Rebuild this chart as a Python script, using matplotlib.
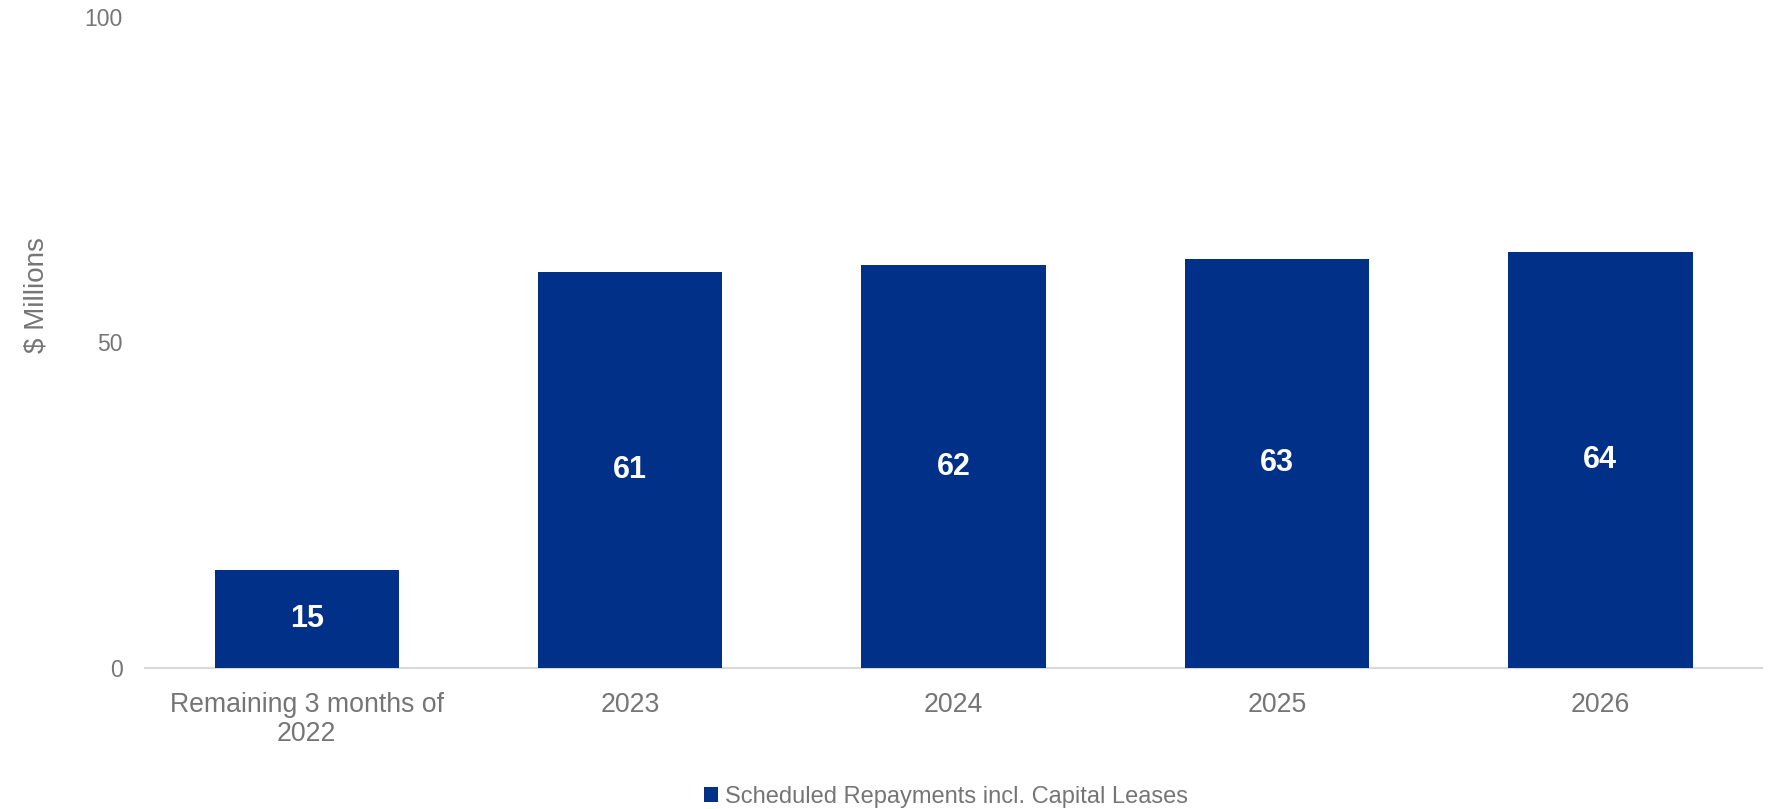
"""
Scheduled repayments bar chart
"""
import matplotlib
matplotlib.use("Agg")
import matplotlib.pyplot as plt
from matplotlib.patches import Patch

plt.rcParams['font.family'] = ['Liberation Sans', 'DejaVu Sans']

# data
categories = ["Remaining 3 months of\n2022", "2023", "2024", "2025", "2026"]
repayments = [15.0, 60.8, 61.9, 62.9, 63.9]
series_name = "Scheduled Repayments incl. Capital Leases"
y_ticks = [0, 50, 100]

bar_color = "#003087"
text_gray = "#757575"

fig = plt.figure(figsize=(17.75, 8.09), dpi=100)
ax = fig.add_axes([0.0817, 0.1743, 0.9110, 0.8047])

x = range(len(categories))
bars = ax.bar(x, repayments, width=0.57, color=bar_color, zorder=3)

# labels inside the bars
for rect, val in zip(bars, repayments):
    ax.text(rect.get_x() + rect.get_width() / 2, val / 2, f"{val:.0f}",
            ha="center", va="center", color="white", fontsize=22, fontweight="bold")

ax.set_xlim(-0.5, len(categories) - 0.5)
ax.set_ylim(0, 100)
ax.set_xticks(list(x))
ax.set_xticklabels(categories, fontsize=19.2, color=text_gray, linespacing=1.15)
ax.set_yticks(y_ticks)
ax.set_yticklabels([str(t) for t in y_ticks], fontsize=16.5, color=text_gray)
ax.tick_params(axis="x", length=0, pad=17)
ax.tick_params(axis="y", length=0, pad=16)

for side in ["top", "right", "left"]:
    ax.spines[side].set_visible(False)
ax.spines["bottom"].set_color("#d9d9d9")
ax.spines["bottom"].set_linewidth(1.5)

ax.set_ylabel("$ Millions", fontsize=20, color=text_gray)
ax.yaxis.set_label_coords(-0.059, 0.573)

handle = Patch(facecolor=bar_color)
fig.legend([handle], [series_name], loc="center", bbox_to_anchor=(0.533, 0.015),
           frameon=False, fontsize=17, labelcolor=text_gray,
           handlelength=0.6, handleheight=0.6, handletextpad=0.3)

fig.savefig("out.png", dpi=100)
